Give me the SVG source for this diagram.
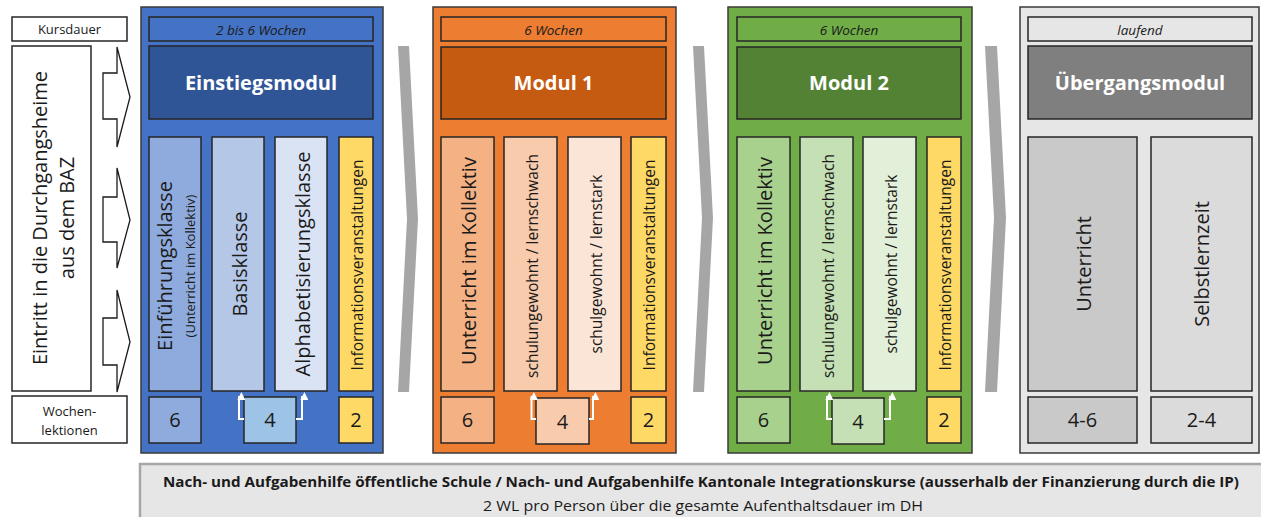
<svg xmlns="http://www.w3.org/2000/svg" width="1261" height="517" viewBox="0 0 1261 517">
<style>
text{font-family:"Open Sans","Noto Sans","DejaVu Sans",sans-serif;fill:#1a1a1a}
.bx{stroke:#262626;stroke-width:1.5}
.outer{stroke:#3a3a3a;stroke-width:1.5}
.hdr{font-size:13.5px;font-style:italic;text-anchor:middle}
.ttl{font-size:20px;font-weight:bold;fill:#fff;text-anchor:middle}
.big{font-size:20px;text-anchor:middle;dominant-baseline:central}
.mid{font-size:15.5px;text-anchor:middle;dominant-baseline:central}
.num{font-size:20px;text-anchor:middle}
.lbl{font-size:13px;text-anchor:middle}
.wa{fill:none;stroke:#fff;stroke-width:2}
.chev{fill:#A6A6A6}
.ba{fill:#fff;stroke:#1a1a1a;stroke-width:1.3}
</style>
<defs>
<marker id="wh" viewBox="0 0 10 10" refX="5" refY="2" markerWidth="4" markerHeight="4" orient="auto-start-reverse" markerUnits="strokeWidth">
<path d="M0,0 L10,5 L0,10 z" fill="#fff"/>
</marker>
</defs>

<g id="labels-left">
<rect x="12" y="17" width="115" height="24" fill="#fff" class="bx"/>
<text x="69.5" y="34" class="lbl">Kursdauer</text>
<rect x="12" y="46" width="79" height="345" fill="#fff" class="bx"/>
<text transform="translate(47,218) rotate(-90)" font-size="20" text-anchor="middle">Eintritt in die Durchgangsheime</text>
<text transform="translate(74,218) rotate(-90)" font-size="20" text-anchor="middle">aus dem BAZ</text>
<rect x="12" y="396" width="115" height="47" fill="#fff" class="bx"/>
<text x="69.5" y="416" class="lbl">Wochen-</text>
<text x="69.5" y="435" class="lbl">lektionen</text>
</g>

<g id="mod-einstieg">
<rect x="141" y="7" width="242" height="446" fill="#4472C4" class="outer"/>
<rect x="149" y="17" width="224" height="24" fill="#4472C4" class="bx"/>
<text x="261" y="34.5" class="hdr">2 bis 6 Wochen</text>
<rect x="149" y="46" width="224" height="73" fill="#2F5597" class="bx"/>
<text x="261" y="90" class="ttl">Einstiegsmodul</text>
<rect x="149" y="137" width="52" height="254" fill="#8FAADC" class="bx"/>
<text transform="translate(172,266) rotate(-90)" font-size="20" text-anchor="middle">Einführungsklasse</text>
<text transform="translate(195,266) rotate(-90)" font-size="13" text-anchor="middle">(Unterricht im Kollektiv)</text>
<rect x="212" y="137" width="52" height="254" fill="#B4C7E7" class="bx"/>
<text transform="translate(239,264) rotate(-90)" class="big">Basisklasse</text>
<rect x="275" y="137" width="52" height="254" fill="#DAE3F3" class="bx"/>
<text transform="translate(302,264) rotate(-90)" class="big">Alphabetisierungsklasse</text>
<rect x="339" y="137" width="34" height="254" fill="#FFD966" class="bx"/>
<text transform="translate(357,265) rotate(-90)" class="mid">Informationsveranstaltungen</text>
<rect x="149" y="397" width="52" height="46" fill="#8FAADC" class="bx"/>
<text x="175" y="427" class="num">6</text>
<rect x="244" y="397" width="52" height="46" fill="#9DC3E6" class="bx"/>
<text x="270" y="427" class="num">4</text>
<rect x="339" y="397" width="34" height="46" fill="#FFD966" class="bx"/>
<text x="356" y="427" class="num">2</text>
</g>

<g id="mod-1">
<rect x="433" y="7" width="243" height="446" fill="#ED7D31" class="outer"/>
<rect x="441" y="17" width="225" height="24" fill="#ED7D31" class="bx"/>
<text x="553.5" y="34.5" class="hdr">6 Wochen</text>
<rect x="441" y="47" width="225" height="72" fill="#C55A11" class="bx"/>
<text x="553.5" y="90" class="ttl">Modul 1</text>
<rect x="441" y="137" width="53" height="254" fill="#F4B183" class="bx"/>
<text transform="translate(468,261) rotate(-90)" class="big">Unterricht im Kollektiv</text>
<rect x="504" y="137" width="53" height="254" fill="#F8CBAD" class="bx"/>
<text transform="translate(532,266) rotate(-90)" class="mid">schulungewohnt / lernschwach</text>
<rect x="568" y="137" width="53" height="254" fill="#FBE5D6" class="bx"/>
<text transform="translate(596,264) rotate(-90)" class="mid">schulgewohnt / lernstark</text>
<rect x="631" y="137" width="35" height="254" fill="#FFD966" class="bx"/>
<text transform="translate(649,265) rotate(-90)" class="mid">Informationsveranstaltungen</text>
<rect x="441" y="397" width="53" height="46" fill="#F4B183" class="bx"/>
<text x="467.5" y="427" class="num">6</text>
<rect x="536" y="398" width="53" height="46" fill="#F8CBAD" class="bx"/>
<text x="562.5" y="429" class="num">4</text>
<rect x="631" y="397" width="35" height="46" fill="#FFD966" class="bx"/>
<text x="648.5" y="427" class="num">2</text>
</g>

<g id="mod-2">
<rect x="728" y="7" width="244" height="446" fill="#70AD47" class="outer"/>
<rect x="737" y="17" width="224" height="24" fill="#70AD47" class="bx"/>
<text x="849" y="34.5" class="hdr">6 Wochen</text>
<rect x="737" y="47" width="224" height="72" fill="#548235" class="bx"/>
<text x="849" y="90" class="ttl">Modul 2</text>
<rect x="737" y="137" width="53" height="254" fill="#A9D18E" class="bx"/>
<text transform="translate(764,261) rotate(-90)" class="big">Unterricht im Kollektiv</text>
<rect x="800" y="137" width="53" height="254" fill="#C5E0B4" class="bx"/>
<text transform="translate(828,266) rotate(-90)" class="mid">schulungewohnt / lernschwach</text>
<rect x="863" y="137" width="53" height="254" fill="#E2F0D9" class="bx"/>
<text transform="translate(891,264) rotate(-90)" class="mid">schulgewohnt / lernstark</text>
<rect x="927" y="137" width="34" height="254" fill="#FFD966" class="bx"/>
<text transform="translate(944.5,265) rotate(-90)" class="mid">Informationsveranstaltungen</text>
<rect x="737" y="397" width="53" height="46" fill="#A9D18E" class="bx"/>
<text x="763.5" y="427" class="num">6</text>
<rect x="832" y="398" width="52" height="46" fill="#C5E0B4" class="bx"/>
<text x="858" y="429" class="num">4</text>
<rect x="927" y="397" width="34" height="46" fill="#FFD966" class="bx"/>
<text x="944" y="427" class="num">2</text>
</g>

<g id="mod-uebergang">
<rect x="1020" y="7" width="239" height="446" fill="#E7E6E6" class="outer"/>
<rect x="1028" y="17" width="224" height="24" fill="#E7E6E6" class="bx"/>
<text x="1140" y="34.5" class="hdr">laufend</text>
<rect x="1028" y="46" width="224" height="73" fill="#7F7F7F" class="bx"/>
<text x="1140" y="90" class="ttl">Übergangsmodul</text>
<rect x="1028" y="137" width="109" height="254" fill="#C9C9C9" class="bx"/>
<text transform="translate(1083,264) rotate(-90)" class="big">Unterricht</text>
<rect x="1151" y="137" width="101" height="254" fill="#DBDBDB" class="bx"/>
<text transform="translate(1201,264) rotate(-90)" class="big">Selbstlernzeit</text>
<rect x="1028" y="397" width="109" height="46" fill="#C9C9C9" class="bx"/>
<text x="1082.5" y="427" class="num">4-6</text>
<rect x="1151" y="397" width="101" height="46" fill="#DBDBDB" class="bx"/>
<text x="1201.5" y="427" class="num">2-4</text>
</g>

<g id="connectors">
<polygon class="ba" points="103,73 117,73 117,47 130,97 117,147 117,119 103,119"/>
<polygon class="ba" points="103,197 117,197 117,168 130,220 117,268 117,242 103,242"/>
<polygon class="ba" points="103,318 117,318 117,290 130,342 117,392 117,365 103,365"/>
<polygon class="chev" points="398,46 409,46 418,219 409,392 398,392 407,219"/>
<polygon class="chev" points="693,46 704,46 713,218 704,392 693,392 702,218"/>
<polygon class="chev" points="985,46 997,46 1006,218 997,392 985,392 994,218"/>
<path class="wa" d="M244,419 H239 V396" marker-end="url(#wh)"/>
<path class="wa" d="M296,419 H302 V396" marker-end="url(#wh)"/>
<path class="wa" d="M536,419 H531.5 V396" marker-end="url(#wh)"/>
<path class="wa" d="M589,419 H593 V396" marker-end="url(#wh)"/>
<path class="wa" d="M832,419 H827 V396" marker-end="url(#wh)"/>
<path class="wa" d="M884,419 H890 V396" marker-end="url(#wh)"/>
</g>

<g id="banner">
<rect x="140" y="464" width="1130" height="60" fill="#E7E6E6" stroke="#A6A6A6" stroke-width="2.5"/>
<text x="701" y="487" font-size="15" font-weight="bold" text-anchor="middle" textLength="1076" lengthAdjust="spacingAndGlyphs">Nach- und Aufgabenhilfe öffentliche Schule / Nach- und Aufgabenhilfe Kantonale Integrationskurse (ausserhalb der Finanzierung durch die IP)</text>
<text x="703" y="511" font-size="15" text-anchor="middle" textLength="440" lengthAdjust="spacingAndGlyphs">2 WL pro Person über die gesamte Aufenthaltsdauer im DH</text>
</g>
</svg>
